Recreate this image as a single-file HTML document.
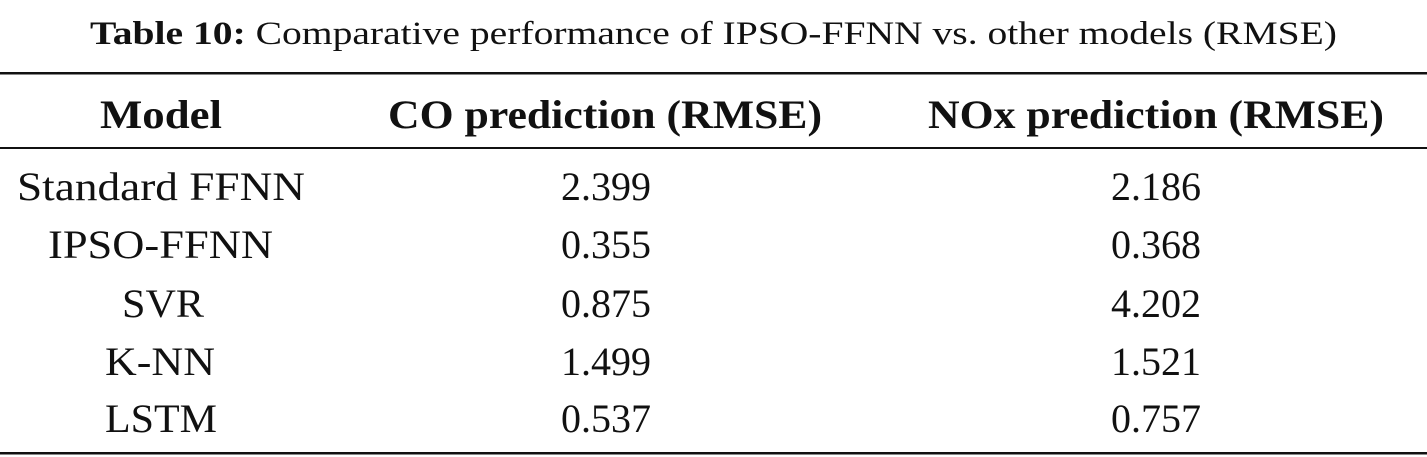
<!DOCTYPE html>
<html><head><meta charset="utf-8"><style>html,body{margin:0;padding:0;background:#fff}svg{display:block}</style></head>
<body>
<svg width="1427" height="457" viewBox="0 0 1427 457" xmlns="http://www.w3.org/2000/svg" font-family="'Liberation Serif', serif" fill="#111">
<text x="90" y="44" font-size="33" textLength="1247" lengthAdjust="spacingAndGlyphs"><tspan font-weight="bold">Table 10:</tspan>  Comparative performance of IPSO-FFNN vs. other models (RMSE)</text>
<rect x="0" y="72" width="1427" height="2.5" fill="#111"/>
<rect x="0" y="147" width="1427" height="2" fill="#111"/>
<rect x="0" y="452" width="1427" height="2.5" fill="#111"/>
<g font-weight="bold" font-size="40">
<text x="100" y="128" textLength="122" lengthAdjust="spacingAndGlyphs">Model</text>
<text x="388" y="128" textLength="434" lengthAdjust="spacingAndGlyphs">CO prediction (RMSE)</text>
<text x="928" y="128" textLength="456" lengthAdjust="spacingAndGlyphs">NOx prediction (RMSE)</text>
</g>
<g font-size="40">
<text x="17" y="200" textLength="288" lengthAdjust="spacingAndGlyphs">Standard FFNN</text>
<text x="48" y="258" textLength="225" lengthAdjust="spacingAndGlyphs">IPSO-FFNN</text>
<text x="122" y="317" textLength="82" lengthAdjust="spacingAndGlyphs">SVR</text>
<text x="105" y="375" textLength="110" lengthAdjust="spacingAndGlyphs">K-NN</text>
<text x="105" y="432" textLength="112" lengthAdjust="spacingAndGlyphs">LSTM</text>
</g>
<g font-size="40" text-anchor="middle">
<text x="606" y="200">2.399</text>
<text x="606" y="258">0.355</text>
<text x="606" y="317">0.875</text>
<text x="606" y="375">1.499</text>
<text x="606" y="432">0.537</text>
<text x="1156" y="200">2.186</text>
<text x="1156" y="258">0.368</text>
<text x="1156" y="317">4.202</text>
<text x="1156" y="375">1.521</text>
<text x="1156" y="432">0.757</text>
</g>
</svg>
</body></html>
